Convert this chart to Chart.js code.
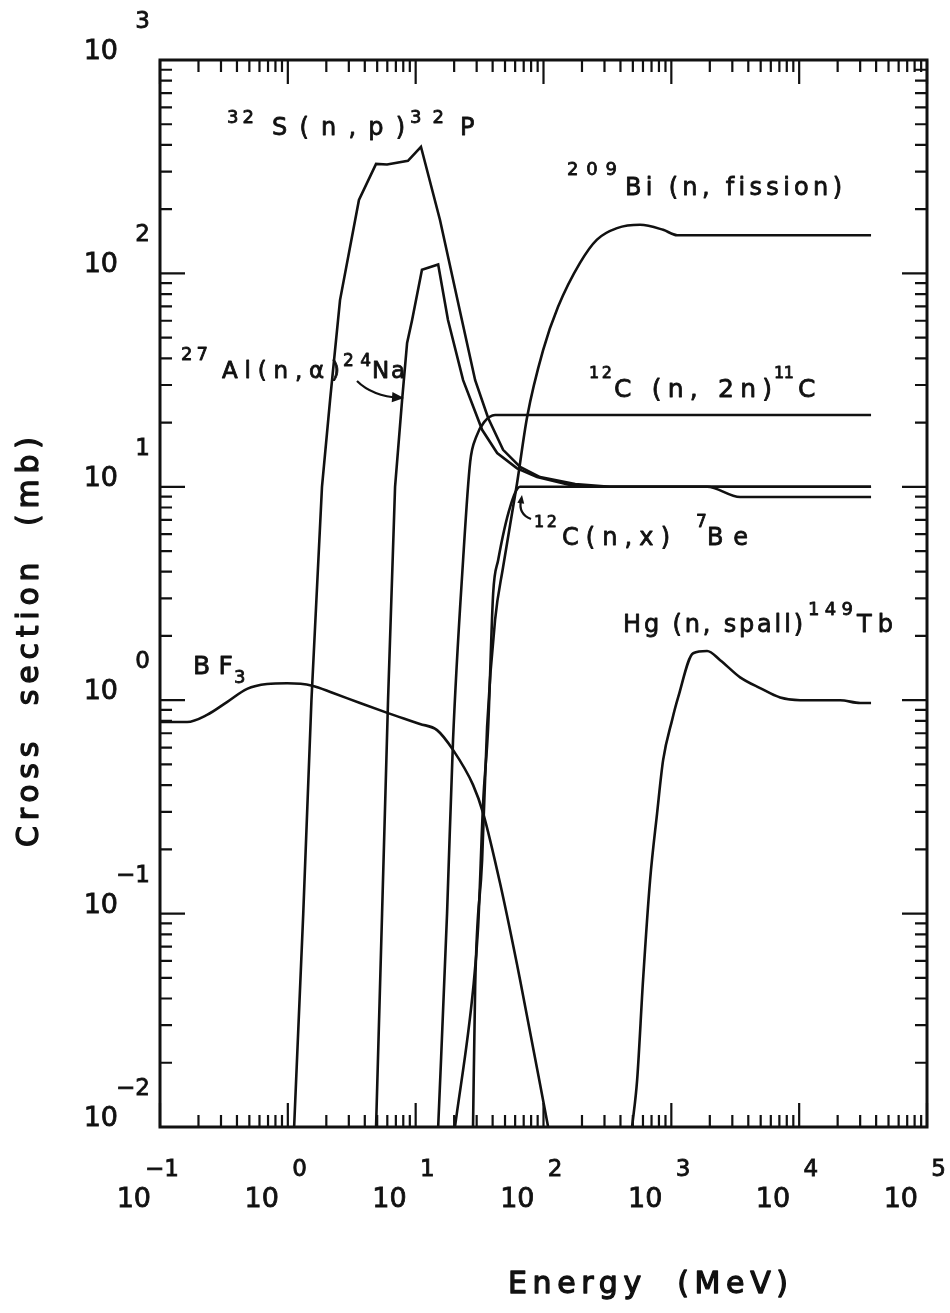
<!DOCTYPE html>
<html>
<head>
<meta charset="utf-8">
<script src="https://cdn.jsdelivr.net/npm/chart.js@4.4.1/dist/chart.umd.min.js"></script>
<style>
  html, body { margin: 0; padding: 0; background: #fff; }
</style>
</head>
<body>
<canvas id="chart" width="950" height="1313"></canvas>
<script>
// neutron energy (MeV) and cross section (mb)
const sulfurE  = [1.12, 1.32, 1.53, 1.85, 2.14, 2.56, 3.6, 4.9, 5.97, 8.7, 11, 15.5, 23, 29.2, 36.9, 48.3, 65.6, 94, 177, 332, 36500];
const sulfurXs = [0.01, 0.1, 1, 10, 25.5, 75, 221, 326, 324, 337, 392, 178, 60.5, 31.6, 21, 14.9, 12.4, 11.1, 10.3, 10, 10];

const alumE  = [4.9, 5.46, 6.08, 6.9, 7.83, 8.57, 9.38, 11.2, 15, 17.9, 23.5, 33.1, 43.4, 62.1, 89, 161, 277, 36500];
const alumXs = [0.01, 0.1, 1, 10, 25.5, 47.2, 60.5, 104, 110, 60.5, 31.6, 18.5, 14.4, 12.2, 11.1, 10.2, 10, 10];

const c11E  = [15, 17.6, 19.6, 23.5, 26.7, 29.7, 34.3, 41.8, 36500];
const c11Xs = [0.01, 0.1, 0.65, 4.54, 13.1, 17.1, 20.1, 21.7, 21.7];

const be7E  = [20.3, 28.1, 30.8, 33.7, 36.9, 40.4, 44.2, 54.8, 65.6, 1905, 3450, 36500];
const be7Xs = [0.01, 0.0438, 0.0865, 0.33, 0.748, 3.18, 4.54, 8.04, 10, 10, 8.96, 8.96];

const bismE  = [28.1, 29.2, 33.1, 36.2, 41.8, 48.3, 62.1, 74.4, 99.3, 130, 193, 262, 376, 570, 863, 1110, 36500];
const bismXs = [0.01, 0.0453, 0.178, 0.748, 2.38, 4.21, 10.4, 21.2, 43.7, 69.7, 112, 144, 163, 169, 160, 151, 151];

const hgE  = [493, 540, 601, 682, 774, 863, 1014, 1130, 1482, 1905, 2410, 3450, 4950, 7100, 10200, 20900, 30000, 36500];
const hgXs = [0.01, 0.0166, 0.0489, 0.1436, 0.296, 0.525, 0.807, 1.03, 1.66, 1.7, 1.54, 1.28, 1.14, 1.03, 1.0, 1.0, 0.97, 0.97];

const bf3E  = [0.1, 0.163, 0.233, 0.334, 0.48, 0.687, 0.987, 1.55, 2.26, 3.67, 6.08, 10.8, 14.7, 19.6, 28.1, 33.7, 45.7, 65.6, 108.7];
const bf3Xs = [0.79, 0.79, 0.853, 0.98, 1.13, 1.19, 1.2, 1.17, 1.08, 0.97, 0.87, 0.774, 0.724, 0.585, 0.401, 0.296, 0.139, 0.0489, 0.01];

// decade exponents for the tick labels
const xExps = [-1, 0, 1, 2, 3, 4, 5];
const yExps = [-2, -1, 0, 1, 2, 3];

const FONT = '"DejaVu Sans", sans-serif';
const INK = '#111';

function pts(e, s) {
  return e.map((v, i) => ({ x: v, y: s[i] }));
}

function curve(e, s, smooth) {
  return {
    data: pts(e, s),
    showLine: true,
    borderColor: INK,
    borderWidth: 2.6,
    pointRadius: 0,
    tension: 0,
    cubicInterpolationMode: smooth ? 'monotone' : 'default'
  };
}

// text stretched with letter spacing between x0 and x1, a bit heavier like pen lettering
function fit(ctx, text, x0, x1, base, size, heavy) {
  ctx.font = size + 'px ' + FONT;
  ctx.letterSpacing = '0px';
  let ls = 0;
  if (text.length > 1) {
    const w = ctx.measureText(text).width;
    ls = (x1 - x0 - w) / (text.length - 1);
  }
  ctx.letterSpacing = ls + 'px';
  ctx.lineWidth = heavy || 0.8;
  ctx.lineJoin = 'round';
  ctx.fillText(text, x0, base);
  ctx.strokeText(text, x0, base);
  ctx.letterSpacing = '0px';
}

function heavyText(ctx, text, x, y, size) {
  ctx.font = size + 'px ' + FONT;
  ctx.lineWidth = 0.8;
  ctx.fillText(text, x, y);
  ctx.strokeText(text, x, y);
}

const labels = [
  ['32', 227, 254, 123, 18], ['S ( n , p )', 272, 405, 135, 24], ['32', 410, 444, 123, 18], ['P', 460, 478, 135, 24],
  ['209', 567, 617, 175, 18], ['Bi (n, fission)', 625, 842, 195, 24],
  ['27', 181, 208, 360, 18], ['Al(n,\u03b1)', 222, 340, 378, 23], ['24', 343, 371, 366, 17], ['Na', 372, 405, 378, 23],
  ['12', 589, 612, 378, 16], ['C (n, 2n)', 614, 772, 397, 25], ['11', 774, 794, 378, 16], ['C', 798, 820, 397, 25],
  ['12', 534, 557, 527, 16], ['C(n,x)', 562, 670, 545, 24], ['7', 696, 705, 527, 17], ['Be', 707, 748, 545, 24],
  ['Hg (n, spall)', 623, 803, 632, 24], ['149', 808, 853, 615, 18], ['Tb', 857, 893, 632, 24],
  ['BF', 193, 233, 674, 25], ['3', 234, 248, 683, 18]
];

function arrowHead(ctx, x, y, ang, len) {
  ctx.beginPath();
  ctx.moveTo(x, y);
  ctx.lineTo(x - len * Math.cos(ang - 0.4), y - len * Math.sin(ang - 0.4));
  ctx.lineTo(x - len * Math.cos(ang + 0.4), y - len * Math.sin(ang + 0.4));
  ctx.closePath();
  ctx.fill();
}

const decor = {
  id: 'decor',
  afterDraw(chart) {
    const ctx = chart.ctx;
    const a = chart.chartArea;
    const xs = chart.scales.x, ys = chart.scales.y;
    ctx.save();
    ctx.strokeStyle = INK;
    ctx.fillStyle = INK;

    // frame
    ctx.lineWidth = 3;
    ctx.strokeRect(a.left, a.top, a.right - a.left, a.bottom - a.top);

    // inward ticks, all four sides
    ctx.lineWidth = 2.2;
    ctx.beginPath();
    for (let d = xExps[0]; d <= xExps[xExps.length - 1]; d++) {
      for (let m = 1; m < 10; m++) {
        if (d === xExps[xExps.length - 1] && m > 1) break;
        const px = xs.getPixelForValue(m * Math.pow(10, d));
        const len = m === 1 ? 24 : 12;
        ctx.moveTo(px, a.bottom); ctx.lineTo(px, a.bottom - len);
        ctx.moveTo(px, a.top); ctx.lineTo(px, a.top + len);
      }
    }
    for (let d = yExps[0]; d <= yExps[yExps.length - 1]; d++) {
      for (let m = 1; m < 10; m++) {
        if (d === yExps[yExps.length - 1] && m > 1) break;
        const py = ys.getPixelForValue(m * Math.pow(10, d));
        const len = m === 1 ? 25 : 12;
        ctx.moveTo(a.left, py); ctx.lineTo(a.left + len, py);
        ctx.moveTo(a.right, py); ctx.lineTo(a.right - len, py);
      }
    }
    ctx.stroke();

    // tick labels as 10 with exponent
    ctx.textBaseline = 'middle';
    ctx.textAlign = 'right';
    yExps.forEach(e => {
      const py = ys.getPixelForValue(Math.pow(10, e));
      heavyText(ctx, '10', 118, py - 8, 27);
      heavyText(ctx, e < 0 ? '\u2212' + (-e) : String(e), 150, py - 38, 23);
    });
    xExps.forEach(e => {
      const px = xs.getPixelForValue(Math.pow(10, e));
      heavyText(ctx, '10', px - 9, 1200, 27);
      heavyText(ctx, e < 0 ? '\u2212' + (-e) : String(e), px + 19, 1170, 23);
    });

    // axis titles
    ctx.textAlign = 'left';
    ctx.textBaseline = 'alphabetic';
    fit(ctx, 'Energy  (MeV)', 508, 788, 1293, 30, 1.3);
    ctx.save();
    ctx.translate(30, 642);
    ctx.rotate(-Math.PI / 2);
    ctx.textBaseline = 'middle';
    fit(ctx, 'Cross  section  (mb)', -205, 205, 0, 30, 1.3);
    ctx.restore();

    // curve labels
    labels.forEach(l => fit(ctx, l[0], l[1], l[2], l[3], l[4]));

    // arrow to the Al curve
    ctx.lineWidth = 2.2;
    ctx.beginPath();
    ctx.moveTo(357, 381);
    ctx.quadraticCurveTo(372, 396, 400, 398);
    ctx.stroke();
    arrowHead(ctx, 404, 398, Math.atan2(2, 28), 13);

    // small hook to the 7Be curve
    ctx.beginPath();
    ctx.moveTo(531, 519);
    ctx.quadraticCurveTo(518, 514, 521, 500);
    ctx.stroke();
    arrowHead(ctx, 522, 495, -Math.PI / 2 + 0.15, 9);

    ctx.restore();
  }
};

new Chart(document.getElementById('chart').getContext('2d'), {
  type: 'scatter',
  data: {
    datasets: [
      curve(sulfurE, sulfurXs, false),
      curve(alumE, alumXs, false),
      curve(c11E, c11Xs, true),
      curve(be7E, be7Xs, true),
      curve(bismE, bismXs, true),
      curve(hgE, hgXs, true),
      curve(bf3E, bf3Xs, true)
    ]
  },
  options: {
    responsive: false,
    animation: false,
    layout: { padding: { left: 160, right: 23, top: 60, bottom: 186 } },
    plugins: { legend: { display: false }, tooltip: { enabled: false } },
    scales: {
      x: { type: 'logarithmic', min: 0.1, max: 100000, display: false },
      y: { type: 'logarithmic', min: 0.01, max: 1000, display: false }
    }
  },
  plugins: [decor]
});
</script>
</body>
</html>
